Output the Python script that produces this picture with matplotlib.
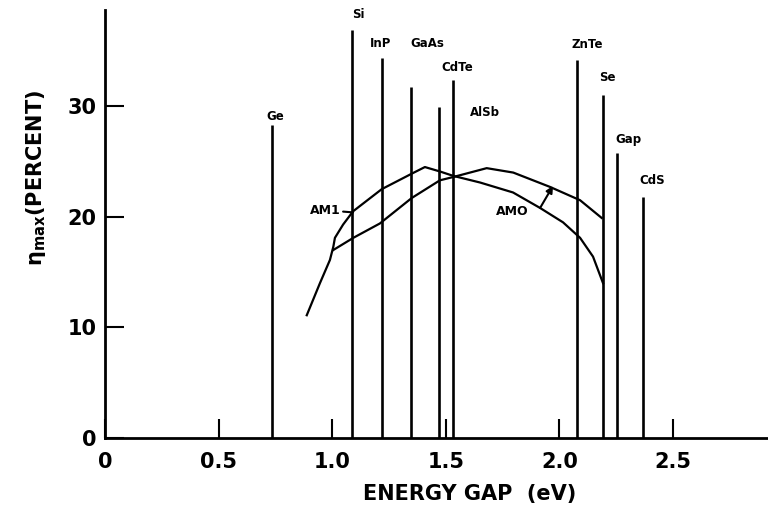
#!/usr/bin/env python3
"""
Maximum efficiency vs energy gap (AM0 / AM1) with semiconductor markers
"""

import matplotlib
matplotlib.use('Agg')
import matplotlib.pyplot as plt

# ---- data ----
# semiconductor bandgap markers: name, gap (eV), line height (percent)
materials = ['Ge', 'Si', 'InP', 'GaAs', 'AlSb', 'CdTe', 'ZnTe', 'Se', 'Gap', 'CdS']
gaps = [0.735, 1.087, 1.219, 1.347, 1.470, 1.532, 2.077, 2.192, 2.254, 2.368]
heights = [28.3, 36.9, 34.4, 31.7, 29.9, 32.4, 34.2, 31.0, 25.8, 21.8]

# AM1 curve (peaks near 1.4 eV)
am1_eg = [0.888, 0.946, 0.990, 1.005, 1.012, 1.048, 1.092, 1.218, 1.350, 1.408,
          1.474, 1.533, 1.651, 1.796, 1.915, 2.016, 2.091, 2.148, 2.192]
am1_eta = [11.1, 14.0, 16.1, 17.3, 18.1, 19.3, 20.5, 22.5, 23.9, 24.5,
           24.1, 23.7, 23.1, 22.2, 20.8, 19.5, 18.1, 16.4, 14.0]

# AM0 curve (peaks near 1.7 eV)
am0_eg = [1.005, 1.093, 1.210, 1.350, 1.474, 1.533, 1.680, 1.797, 1.959, 2.091, 2.186]
am0_eta = [17.0, 18.1, 19.4, 21.7, 23.3, 23.6, 24.4, 24.0, 22.7, 21.5, 19.9]

xticks = [0, 0.5, 1.0, 1.5, 2.0, 2.5]
xtick_labels = ['0', '0.5', '1.0', '1.5', '2.0', '2.5']
yticks = [0, 10, 20, 30]

# label anchors for the material names (layout only)
label_pos = [(0.748, 29.1), (1.114, 38.3), (1.215, 35.7), (1.417, 35.7), (1.672, 29.4),
             (1.549, 33.5), (2.121, 35.6), (2.209, 32.6), (2.306, 27.0), (2.408, 23.3)]


def plot_efficiency(output_path='out.png'):
    plt.rcParams['font.family'] = ['DejaVu Sans']
    fig = plt.figure(figsize=(7.68, 5.17), dpi=100, facecolor='white')
    ax = fig.add_axes([105 / 768, 1 - 438 / 517, 1 - 105 / 768, 428 / 517])

    # bandgap markers
    ax.vlines(gaps, 0, heights, colors='black', linewidth=1.9)
    for name, (lx, ly) in zip(materials, label_pos):
        ax.text(lx, ly, name, ha='center', va='center', fontsize=8.5,
                fontweight='bold')

    # efficiency curves
    ax.plot(am1_eg, am1_eta, color='black', linewidth=1.6)
    ax.plot(am0_eg, am0_eta, color='black', linewidth=1.6)

    # curve labels
    ax.annotate('AM1', xy=(1.092, 20.4), xytext=(0.968, 20.6),
                ha='center', va='center', fontsize=9, fontweight='bold',
                arrowprops=dict(arrowstyle='-', color='black', lw=1.5,
                                shrinkA=0, shrinkB=0))
    ax.text(1.791, 20.5, 'AMO', ha='center', va='center', fontsize=9,
            fontweight='bold')
    ax.annotate('', xy=(1.972, 22.8), xytext=(1.915, 20.8),
                arrowprops=dict(arrowstyle='-|>', color='black', lw=1.5,
                                mutation_scale=10, shrinkA=0, shrinkB=0))

    ax.set_xlim(0, (768 - 105) / 227.2)
    ax.set_ylim(0, 38.7)
    ax.set_xticks(xticks)
    ax.set_xticklabels(xtick_labels)
    ax.set_yticks(yticks)

    for side in ['top', 'right']:
        ax.spines[side].set_visible(False)
    for side in ['left', 'bottom']:
        ax.spines[side].set_linewidth(2.0)

    ax.tick_params(axis='both', direction='in', length=14, width=1.5,
                   labelsize=15)
    ax.tick_params(axis='x', pad=10)
    ax.tick_params(axis='y', pad=6)
    for lab in ax.get_xticklabels() + ax.get_yticklabels():
        lab.set_fontweight('bold')

    fig.text(470 / 768, 1 - 494 / 517, 'ENERGY GAP  (eV)', ha='center',
             va='center', fontsize=15, fontweight='bold')
    fig.text(36 / 768, 1 - 178 / 517, r'η$_{\mathbf{max}}$(PERCENT)',
             rotation=90, ha='center', va='center', fontsize=15,
             fontweight='bold')

    plt.savefig(output_path, dpi=100, facecolor='white')
    plt.close()


if __name__ == '__main__':
    plot_efficiency()
